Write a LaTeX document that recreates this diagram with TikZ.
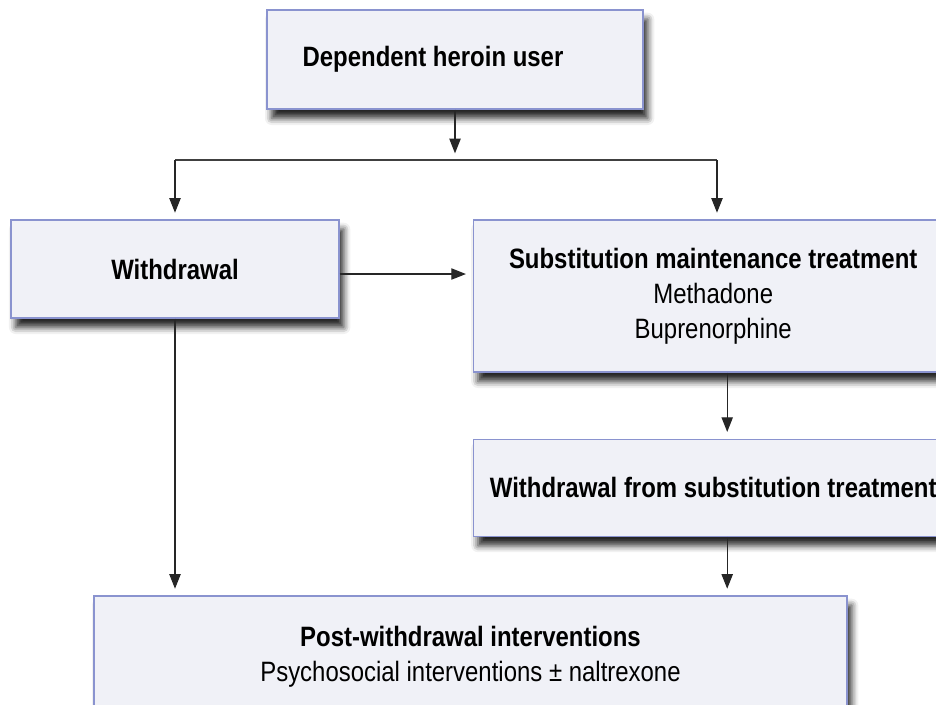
\documentclass[tikz,border=0pt]{standalone}
\usepackage{fontspec}
\setmainfont{Liberation Sans}[FakeStretch=0.855]
\usetikzlibrary{positioning,arrows.meta,shadows.blur}
\definecolor{boxfill}{RGB}{240,241,247}
\definecolor{boxline}{RGB}{138,147,207}
\tikzstyle{stage} = [rectangle, draw=boxline, fill=boxfill, line width=0.9pt, align=center, font=\fontsize{21}{26.25}\selectfont, blur shadow={shadow xshift=3.5pt, shadow yshift=-7pt, shadow blur radius=5pt, shadow opacity=85}]
\tikzstyle{arrow} = [line width=0.9pt, draw=black!85, -{Triangle[length=11pt,width=8.5pt]}, shorten >=5pt]
\tikzstyle{link} = [line width=0.9pt, draw=black!75]

\begin{document}
\begin{tikzpicture}[x=0.75pt,y=-0.75pt]
	\useasboundingbox (0,0) rectangle (936,704);
	
	\node[stage, minimum width=282pt, minimum height=74.25pt] (user) at (455,59.5) {\textbf{Dependent heroin user}\hspace*{33pt}};
	\node[stage, minimum width=246pt, minimum height=73.5pt] (withdraw) at (175,269) {\textbf{Withdrawal}};
	\node[stage, minimum width=360pt, minimum height=114pt, right=99.75pt of withdraw.north east, anchor=north west] (subst) {\textbf{Substitution maintenance treatment}\\Methadone\\Buprenorphine};
	\node[stage, minimum width=360pt, minimum height=72.75pt, below=49.5pt of subst.south west, anchor=north west] (wfst) {\textbf{Withdrawal from substitution treatment}};
	\node[stage, minimum width=564.75pt, minimum height=91.5pt] (post) at (470.5,657) {\textbf{Post-withdrawal interventions}\\Psychosocial interventions ± naltrexone};
	
	% fork below the first box
	\coordinate (fork) at (user.south |- 0,160);
	\coordinate (forkl) at (withdraw.north |- fork);
	\coordinate (forkr) at (717,160);
	
	\draw[arrow] (user.south) -- (fork);
	\draw[link] (forkl) -- (forkr);
	\draw[arrow] (forkl) -- (withdraw.north);
	\draw[arrow] (forkr) -- (forkr |- subst.north);
	\draw[arrow] ([yshift=-3.75pt]withdraw.east) -- ([yshift=-3.75pt]withdraw.east -| subst.west);
	\draw[arrow] ([xshift=10.5pt]subst.south) -- ([xshift=10.5pt]wfst.north);
	\draw[arrow] ([xshift=10.5pt]wfst.south) -- ([xshift=10.5pt]wfst.south |- post.north);
	\draw[arrow] (withdraw.south) -- (withdraw.south |- post.north);
\end{tikzpicture}
\end{document}
